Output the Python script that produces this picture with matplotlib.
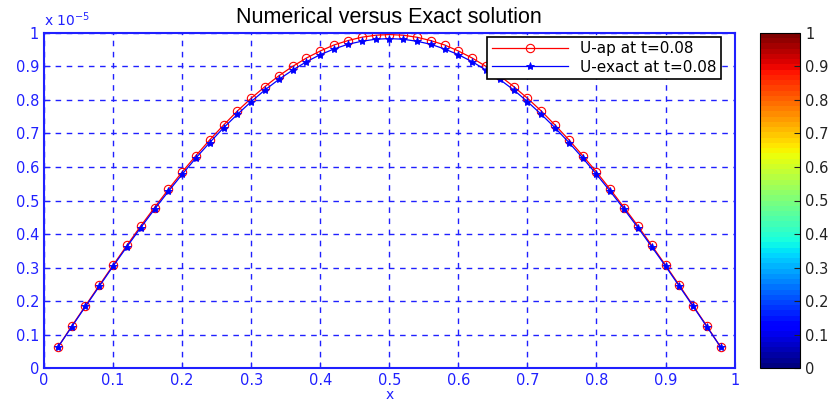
import numpy as np
import matplotlib
matplotlib.use("Agg")
import matplotlib.pyplot as plt
from matplotlib import cm, colors

plt.rcParams['font.family'] = ['DejaVu Sans']

x = [0.02, 0.04, 0.06, 0.08, 0.10, 0.12, 0.14, 0.16, 0.18, 0.20,
     0.22, 0.24, 0.26, 0.28, 0.30, 0.32, 0.34, 0.36, 0.38, 0.40,
     0.42, 0.44, 0.46, 0.48, 0.50, 0.52, 0.54, 0.56, 0.58, 0.60,
     0.62, 0.64, 0.66, 0.68, 0.70, 0.72, 0.74, 0.76, 0.78, 0.80,
     0.82, 0.84, 0.86, 0.88, 0.90, 0.92, 0.94, 0.96, 0.98]

# values in units of 1e-5
u_ap = [0.062, 0.125, 0.186, 0.247, 0.307, 0.366, 0.424, 0.479, 0.533, 0.585,
        0.634, 0.681, 0.725, 0.767, 0.805, 0.840, 0.872, 0.900, 0.925, 0.946,
        0.964, 0.977, 0.987, 0.993, 0.995, 0.993, 0.987, 0.977, 0.964, 0.946,
        0.925, 0.900, 0.872, 0.840, 0.805, 0.767, 0.725, 0.681, 0.634, 0.585,
        0.533, 0.479, 0.424, 0.366, 0.307, 0.247, 0.186, 0.125, 0.062]
u_exact = [0.062, 0.123, 0.184, 0.244, 0.304, 0.362, 0.419, 0.474, 0.527, 0.578,
           0.627, 0.673, 0.717, 0.757, 0.795, 0.830, 0.861, 0.889, 0.914, 0.935,
           0.952, 0.966, 0.975, 0.981, 0.983, 0.981, 0.975, 0.966, 0.952, 0.935,
           0.914, 0.889, 0.861, 0.830, 0.795, 0.757, 0.717, 0.673, 0.627, 0.578,
           0.527, 0.474, 0.419, 0.362, 0.304, 0.244, 0.184, 0.123, 0.062]

tick_labels = ['0', '0.1', '0.2', '0.3', '0.4', '0.5', '0.6', '0.7', '0.8', '0.9', '1']

x = np.array(x)
u_ap = np.array(u_ap) * 1e-5
u_exact = np.array(u_exact) * 1e-5

blue = '#2020ff'

fig = plt.figure(figsize=(8.31, 4.01), dpi=100)
ax = fig.add_axes([0.053, 0.082, 0.831, 0.836])

ax.plot(x, u_ap, color='red', marker='o', markerfacecolor='none', markersize=6,
        linewidth=0.9, markeredgewidth=0.8, label='U-ap at t=0.08')
ax.plot(x, u_exact, color='blue', marker='*', markersize=6,
        linewidth=0.9, markeredgewidth=0.6, label='U-exact at t=0.08')

ax.set_xlim(0, 1)
ax.set_ylim(0, 1e-5)
ax.set_xticks(np.arange(0, 1.01, 0.1))
ax.set_xticklabels(tick_labels)
ax.set_yticks(np.arange(0, 1.01e-5, 1e-6))
ax.set_yticklabels(tick_labels)
ax.grid(True, color=blue, linestyle=(0, (4, 4)), linewidth=1.0)
ax.tick_params(direction='in', colors=blue, labelsize=10.5, length=4)
for s in ax.spines.values():
    s.set_color(blue)
    s.set_linewidth(1.5)
ax.text(0.0, 1.012, r'x $10^{-5}$', transform=ax.transAxes, color=blue, fontsize=10,
        ha='left', va='bottom')
ax.set_xlabel('x', color=blue, fontsize=10, labelpad=0)
ax.set_title('Numerical versus Exact solution', fontsize=15.5, pad=7,
             family='Liberation Sans')

leg = ax.legend(loc='upper right', bbox_to_anchor=(0.981, 0.988), borderaxespad=0,
                fontsize=11, fancybox=False, framealpha=1, edgecolor='black',
                borderpad=0.3, handlelength=5, labelspacing=0.2)
leg.get_frame().set_linewidth(1.2)

cax = fig.add_axes([0.915, 0.082, 0.048, 0.836])
sm = cm.ScalarMappable(norm=colors.Normalize(0, 1), cmap=plt.get_cmap('jet', 64))
cb = fig.colorbar(sm, cax=cax)
cb.set_ticks(np.arange(0, 1.01, 0.1))
cb.set_ticklabels(tick_labels)
cax.tick_params(direction='in', length=4, labelsize=10.5, colors='#222222')
cb.outline.set_edgecolor('black')

fig.savefig('out.png', dpi=100)
